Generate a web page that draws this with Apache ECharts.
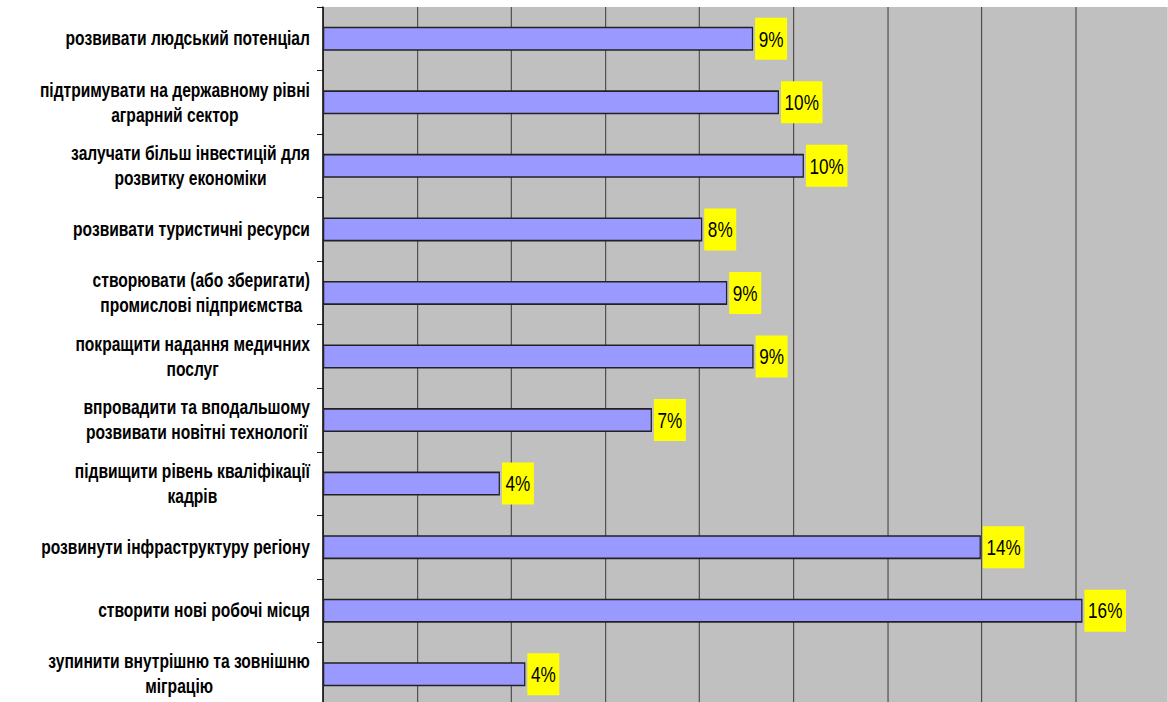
<!DOCTYPE html>
<html><head><meta charset="utf-8">
<script src="https://cdn.jsdelivr.net/npm/echarts@6/dist/echarts.min.js"></script>
<style>
html,body{margin:0;padding:0;background:#fff;overflow:hidden;width:1168px;height:702px}
#c{height:702px;transform-origin:0 0}
</style>
</head><body><div id="c"></div>
<script>
const categories = [
  "розвивати людський потенціал",
  "підтримувати на державному рівні\nаграрний сектор",
  "залучати більш інвестицій для\nрозвитку економіки",
  "розвивати туристичні ресурси",
  "створювати (або зберигати)\nпромислові підприємства",
  "покращити надання медичних\nпослуг",
  "впровадити та вподальшому\nрозвивати новітні технології",
  "підвищити рівень кваліфікації\nкадрів",
  "розвинути інфраструктуру регіону",
  "створити нові робочі місця",
  "зупинити внутрішню та зовнішню\nміграцію"
];
const values = [9.14, 9.69, 10.22, 8.06, 8.59, 9.15, 6.99, 3.76, 13.98, 16.14, 4.30];
const xMin = 0, xMax = 18, xStep = 2;

// horizontally condensed typography (as in the reference) via a uniform x-scale of the whole drawing
const S = 0.78;
const el = document.getElementById('c');
el.style.width = (1168 / S) + 'px';
el.style.transform = 'scaleX(' + S + ')';

const chart = echarts.init(el, null, { renderer: 'svg' });
chart.setOption({
  animation: false,
  backgroundColor: '#ffffff',
  grid: { left: 323 / S, top: 7, width: 847 / S, height: 699, show: true, backgroundColor: '#c0c0c0', borderWidth: 0, containLabel: false, outerBoundsMode: 'none' },
  xAxis: {
    type: 'value', min: xMin, max: xMax, interval: xStep,
    axisLabel: { show: false }, axisTick: { show: false }, axisLine: { show: false },
    splitLine: { show: true, lineStyle: { color: '#3a3a3a', width: 1 / S } }
  },
  yAxis: {
    type: 'category', inverse: true, data: categories,
    axisLine: { show: true, lineStyle: { color: '#000', width: 1.3 / S } },
    axisTick: { show: true, length: 6 / S, lineStyle: { color: '#000', width: 1 } },
    axisLabel: {
      margin: 13 / S,
      formatter: v => v.split('\n').map(l => '{c|' + l + '}').join('\n'),
      rich: { c: { align: 'center', fontWeight: 'bold', fontSize: 20, fontFamily: '"Liberation Sans", Arial, sans-serif', color: '#000', lineHeight: 25 } }
    }
  },
  series: [{
    type: 'bar', data: values, barWidth: 24,
    itemStyle: { color: '#9999ff', borderColor: '#222', borderWidth: 1.6 },
    label: {
      show: true, position: 'right', distance: 2 / S,
      formatter: p => Math.round(p.value) + '%',
      backgroundColor: '#ffff00', color: '#000', fontSize: 22, fontFamily: '"Liberation Sans", Arial, sans-serif',
      lineHeight: 22, padding: [10, 4.6, 10, 4.6]
    }
  }]
});
</script></body></html>
